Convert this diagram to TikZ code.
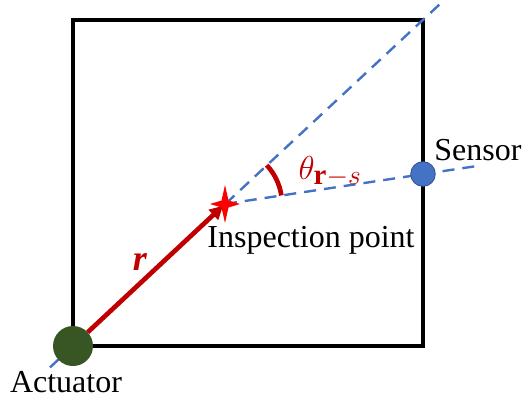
\documentclass[tikz,border=0pt]{standalone}
\usepackage{fontspec}
\setmainfont{Liberation Serif}
\usetikzlibrary{arrows.meta,angles}
\definecolor{boxline}{HTML}{000000}
\definecolor{guideblue}{HTML}{4472C4}
\definecolor{vecred}{HTML}{C00000}
\definecolor{actgreen}{HTML}{375623}
\definecolor{sensedge}{HTML}{2F528F}

\begin{document}
\begin{tikzpicture}[x=0.75pt,y=0.75pt,
  font=\fontsize{24}{28}\selectfont,
  guide/.style={draw=guideblue,line width=1.8pt,dash pattern=on 9pt off 6pt},
  vec/.style={draw=vecred,line width=3.5pt,shorten >=2pt,
              -{Triangle[length=10pt,width=10pt]}},
  actnode/.style={circle,fill=actgreen,minimum size=30pt,inner sep=0pt},
  sensnode/.style={circle,fill=guideblue,draw=sensedge,line width=0.6pt,
                   minimum size=18.5pt,inner sep=0pt},
  lbl/.style={inner sep=0pt}]
\useasboundingbox (0,0) rectangle (524,400);

\coordinate (A) at (73,54);
\coordinate (S) at (423,226);
\coordinate (inspect) at (225,196);
\coordinate (tailA) at (50,32.6);
\coordinate (headA) at (440,396);
\coordinate (tailS) at (477,234);

% specimen outline
\draw[boxline,line width=3pt] (73,54) rectangle (423,380);

% dashed guides
\draw[guide] (tailA) -- (headA);
\draw[guide] (inspect) -- (tailS);

\node[actnode] (actuator) at (A) {};
\node[sensnode] (sensor) at (S) {};

\draw[vec] (actuator) -- (inspect);
\fill[red] (inspect) ++(0,19) -- ++(3.5,-15.5) -- ++(11.5,-3.5) -- ++(-11.5,-3.5)
  -- ++(-3.5,-15.5) -- ++(-3.5,15.5) -- ++(-11.5,3.5) -- ++(11.5,3.5) -- cycle;

\pic[draw=vecred,line width=3.5pt,angle radius=42.75pt] {angle=sensor--inspect--headA};

\node[lbl] (senslbl) at (478,250) {Sensor};
\node[lbl] (insplbl) at (311,160) {Inspection point};
\node[lbl] (actlbl) at (66,18) {Actuator};
\node[lbl,text=vecred,font=\fontsize{31}{34}\selectfont] (anglbl) at (330,228)
  {$\theta_{\mathbf{r}-s}$};
\node[lbl,text=vecred,font=\fontsize{27}{30}\selectfont] (veclbl) at (140,138)
  {\textbf{\textit{r}}};
\end{tikzpicture}
\end{document}
